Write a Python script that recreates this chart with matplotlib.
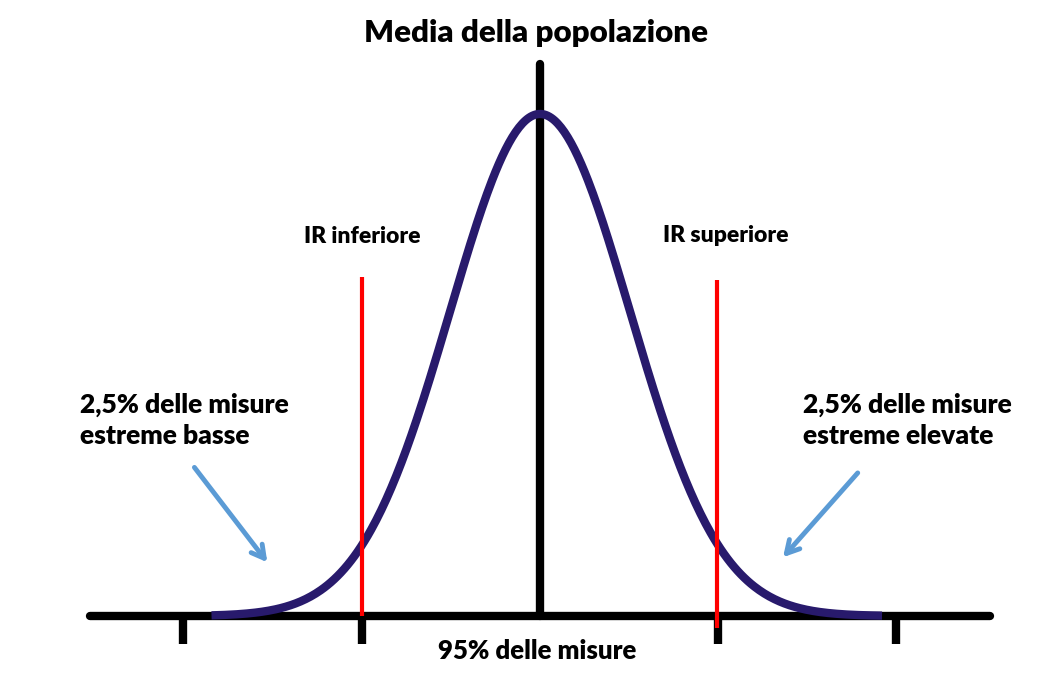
import numpy as np
import matplotlib.pyplot as plt

# data (x in units of sigma, y as fraction of the peak height)
curve_start, curve_end = -3.65, 3.8
ticks = [-3.97, -1.98, 1.98, 3.96]
ir_low, ir_high = -1.98, 1.97
title = "Media della popolazione"
ir_labels = ["IR inferiore", "IR superiore"]
tail_left = "2,5% delle misure\nestreme basse"
tail_right = "2,5% delle misure\nestreme elevate"
mid_label = "95% delle misure"

plt.rcParams['font.family'] = ['Lato', 'DejaVu Sans']

fig = plt.figure(figsize=(10.56, 6.79), dpi=100)
ax = fig.add_axes([0, 0, 1, 1])
ax.set_xlim(-6.0, 5.733)
ax.set_ylim(-0.1255, 1.227)
ax.axis('off')

# baseline + ticks
ax.plot([-5.0, 5.0], [0, 0], color='black', lw=6, solid_capstyle='round', zorder=2)
for t in ticks:
    ax.plot([t, t], [0, -0.056], color='black', lw=6, solid_capstyle='butt', zorder=2)

# mean line
ax.plot([0, 0], [0, 1.10], color='black', lw=6, solid_capstyle='round', zorder=2)

# red reference lines
ax.plot([ir_low, ir_low], [0.0, 0.675], color='#ff0000', lw=3, solid_capstyle='butt', zorder=4)
ax.plot([ir_high, ir_high], [-0.024, 0.669], color='#ff0000', lw=3, solid_capstyle='butt', zorder=4)

# normal curve
x = np.linspace(curve_start, curve_end, 400)
y = np.exp(-x ** 2 / 2)
ax.plot(x, y, color='#281a6c', lw=6, solid_capstyle='butt', zorder=3)

# texts
bold = dict(fontweight='heavy')
ax.text(-0.04, 1.162, title, ha='center', va='center', fontsize=22.5, **bold)
ax.text(ir_low, 0.755, ir_labels[0], ha='center', va='center', fontsize=16.5, **bold)
ax.text(2.06, 0.757, ir_labels[1], ha='center', va='center', fontsize=16.5, **bold)
ax.text(-5.11, 0.39, tail_left, ha='left', va='center', fontsize=19, linespacing=1.32, **bold)
ax.text(2.92, 0.39, tail_right, ha='left', va='center', fontsize=19, linespacing=1.32, **bold)
ax.text(-0.03, -0.07, mid_label, ha='center', va='center', fontsize=18.5, **bold)

# arrows
arrow = dict(arrowstyle='->,head_length=0.9,head_width=0.5', color='#5b9bd5', lw=3.5,
             shrinkA=0, shrinkB=0)
ax.annotate('', xy=(-3.03, 0.107), xytext=(-3.84, 0.296), arrowprops=arrow)
ax.annotate('', xy=(2.7, 0.117), xytext=(3.53, 0.285), arrowprops=arrow)

fig.savefig('out.png', dpi=100)
